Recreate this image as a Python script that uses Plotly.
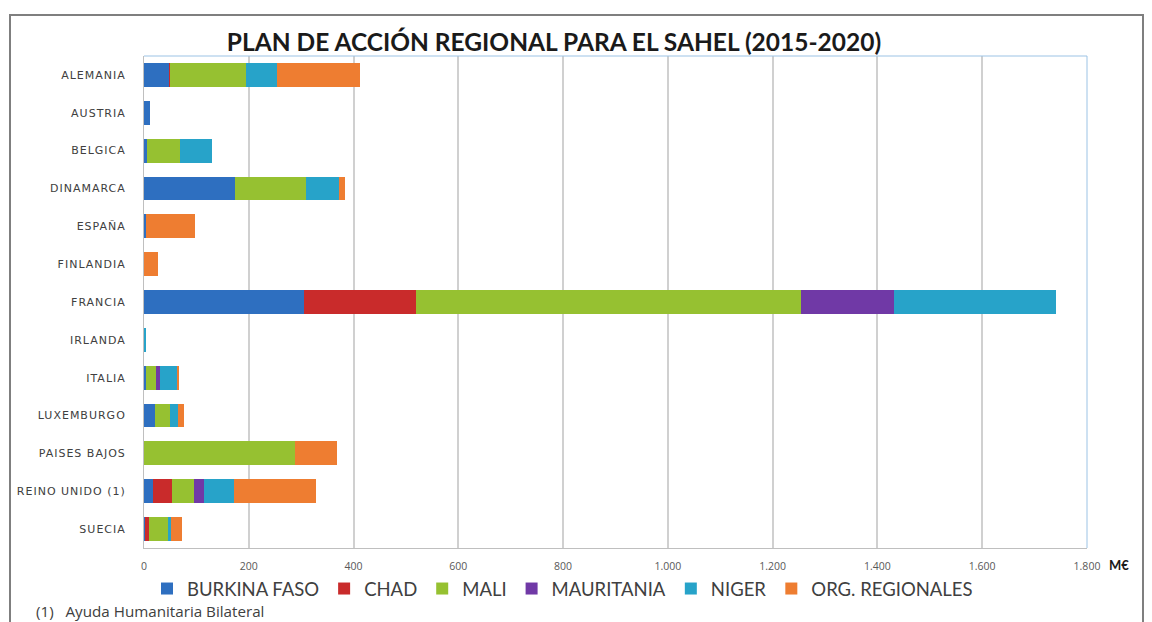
import plotly.graph_objects as go

countries = ["ALEMANIA", "AUSTRIA", "BELGICA", "DINAMARCA", "ESPAÑA", "FINLANDIA",
             "FRANCIA", "IRLANDA", "ITALIA", "LUXEMBURGO", "PAISES BAJOS",
             "REINO UNIDO (1)", "SUECIA"]

burkina_faso = [48, 11, 6, 174, 3, 0, 306, 0, 4, 21, 0, 18, 2]
chad = [2, 0, 0, 0, 0, 0, 213, 0, 0, 0, 0, 36, 7]
mali = [144, 0, 62, 136, 0, 0, 736, 0, 19, 29, 289, 42, 36]
mauritania = [0, 0, 0, 0, 0, 0, 177, 0, 8, 0, 0, 19, 0]
niger = [60, 0, 62, 63, 0, 0, 309, 4, 33, 14, 0, 57, 6]
org_regionales = [158, 0, 0, 10, 95, 26, 0, 0, 2, 13, 80, 156, 22]

series = [
    ("BURKINA FASO", burkina_faso, "#2e6fc0"),
    ("CHAD", chad, "#c92b2b"),
    ("MALI", mali, "#96c131"),
    ("MAURITANIA", mauritania, "#7039a6"),
    ("NIGER", niger, "#27a3c9"),
    ("ORG. REGIONALES", org_regionales, "#ee7d31"),
]

x_ticks = [0, 200, 400, 600, 800, 1000, 1200, 1400, 1600, 1800]

fig = go.Figure()
for name, vals, col in series:
    fig.add_trace(go.Bar(
        y=countries, x=vals, name=name, orientation="h",
        marker=dict(color=col, line=dict(width=0)),
    ))

W, H = 1152, 622
ml, mr, mt, mb = 144, 65, 56, 74
PW, PH = W - ml - mr, H - mt - mb


def px(x):
    return (x - ml) / PW


def py(y):
    return 1 - (y - mt) / PH


fig.update_layout(
    width=W, height=H,
    margin=dict(l=ml, r=mr, t=mt, b=mb),
    barmode="stack",
    bargap=0.37,
    separators=",.",
    paper_bgcolor="white",
    plot_bgcolor="white",
    font=dict(family="Open Sans, sans-serif", color="#404040"),
    title=dict(
        text="<b>PLAN DE ACCIÓN REGIONAL PARA EL SAHEL (2015-2020)</b>",
        x=554 / W, xanchor="center", y=1 - 42 / H, yanchor="middle",
        font=dict(family="Lato, sans-serif", size=24.5, color="#1a1a1a"),
    ),
    xaxis=dict(
        range=[0, 1800], tickvals=x_ticks, tickformat=",d",
        showgrid=True, gridcolor="#d0d0d0", gridwidth=2,
        showline=True, linecolor="#bfbfbf", linewidth=1,
        zeroline=False, ticks="",
        tickfont=dict(family="Open Sans, sans-serif", size=10.5, color="#595959"),
        ticklabelstandoff=8,
        fixedrange=True,
    ),
    yaxis=dict(
        autorange="reversed",
        showline=True, linecolor="#bfbfbf", linewidth=1,
        ticks="", showgrid=False,
        tickfont=dict(family="DejaVu Sans, sans-serif", size=11, color="#404040"),
        ticklabelstandoff=15,
    ),
    legend=dict(
        orientation="h", x=px(147), xanchor="left",
        y=py(589), yanchor="middle",
        font=dict(family="Lato, sans-serif", size=18.5, color="#404040"),
        bgcolor="rgba(0,0,0,0)", traceorder="normal",
    ),
    showlegend=True,
)

# plot-area top and right border (light blue)
fig.add_shape(type="line", xref="paper", yref="paper", x0=0, x1=1, y0=1, y1=1,
              line=dict(color="#9cc3e5", width=1))
fig.add_shape(type="line", xref="paper", yref="paper", x0=1, x1=1, y0=0, y1=1,
              line=dict(color="#9cc3e5", width=1))

# outer frame
fig.add_shape(type="rect", xref="paper", yref="paper",
              x0=px(10), x1=px(1143), y0=py(640), y1=py(15),
              line=dict(color="#7f7f7f", width=2), layer="below")

fig.add_annotation(text="<b>M€</b>", xref="paper", yref="paper",
                   x=px(1107), y=py(565),
                   xanchor="left", yanchor="middle", showarrow=False,
                   font=dict(family="Lato, sans-serif", size=13, color="#1a1a1a"))

fig.add_annotation(text="(1)&nbsp;&nbsp;&nbsp;Ayuda Humanitaria Bilateral",
                   xref="paper", yref="paper",
                   x=px(34), y=py(611),
                   xanchor="left", yanchor="middle", showarrow=False,
                   font=dict(family="Open Sans, sans-serif", size=15.2, color="#404040"))

post = (
    "document.body.style.margin='0';document.body.style.padding='0';"
    "document.querySelectorAll('.ytick text').forEach(function(t){"
    "t.style.letterSpacing='1px';});"
)
fig.write_html("out.html", post_script=post, config={"displayModeBar": False})
